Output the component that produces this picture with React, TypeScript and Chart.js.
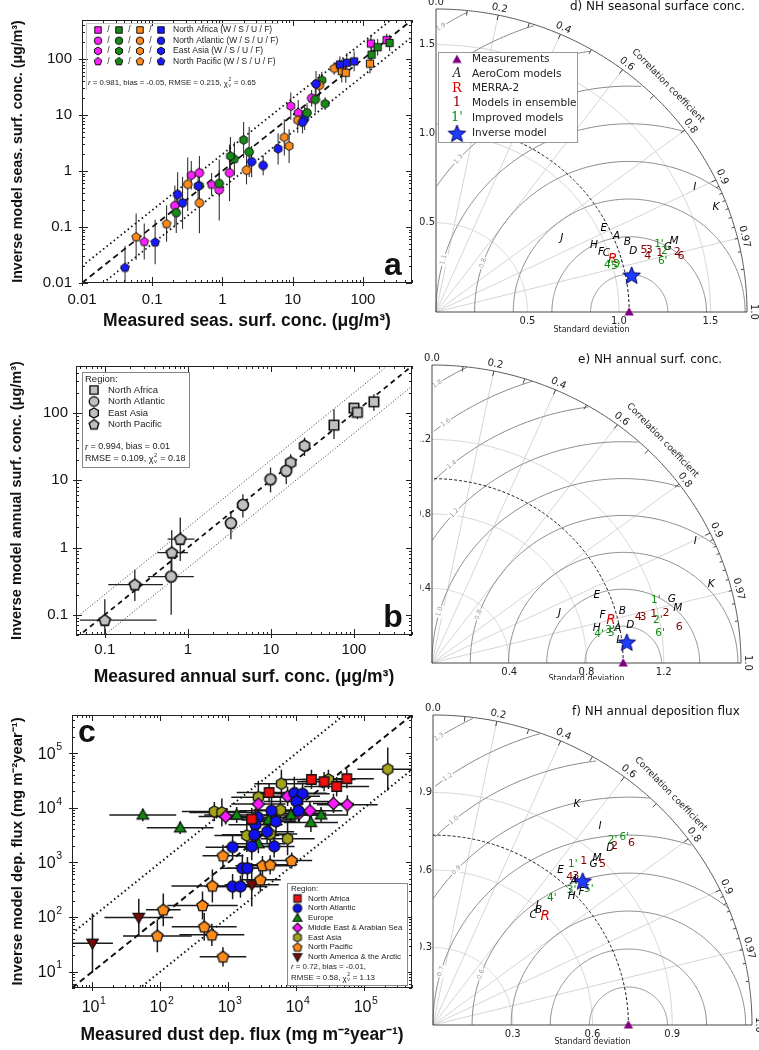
import React, { useEffect, useRef } from 'react';
import { Chart, registerables } from 'chart.js';

Chart.register(...registerables);

const SANS = '"Liberation Sans", Arial, Helvetica, sans-serif';
const DJ = '"DejaVu Sans", Verdana, sans-serif';
const SERIF = '"DejaVu Serif", "Liberation Serif", serif';

/* ================= a) seasonal surface concentration ================= */
const aSeasons = ['W', 'S', 'U', 'F'];
const aSeasonColor: Record<string, string> = { W: '#ff20ff', S: '#178a17', U: '#ff8c1a', F: '#1a1aff' };
const aRegionNames = ['North Africa', 'North Atlantic', 'East Asia', 'North Pacific'];
const aRegionShapes = ['square', 'circle', 'hexagon', 'pentagon'];

const aAfricaX = [130, 218, 133, 162, 240, 126, 50, 57, 47, 59, 75];
const aAfricaY = [190, 219, 120, 163, 195, 83, 61, 57, 80, 86, 91];
const aAfricaS = ['W', 'W', 'S', 'S', 'S', 'U', 'U', 'U', 'F', 'F', 'F'];
const aAfricaE = [1.4, 1.3, 1.5, 1.4, 1.4, 1.5, 1.6, 1.5, 1.4, 1.5, 1.5];

const aAtlX = [1.26, 0.47, 0.9, 0.21, 18.6, 21, 16, 0.9, 2.4, 0.22, 24, 2.2, 0.47, 0.32, 21.5, 13.8, 2.6, 3.8, 0.23, 0.27];
const aAtlY = [0.93, 0.93, 0.46, 0.24, 20, 19, 11, 0.6, 2.2, 0.18, 34, 1.04, 0.27, 0.58, 36, 7.5, 1.47, 1.26, 0.38, 0.27];
const aAtlS = ['W', 'W', 'W', 'W', 'W', 'S', 'S', 'S', 'S', 'S', 'U', 'U', 'U', 'U', 'F', 'F', 'F', 'F', 'F', 'F'];
const aAtlE = [3.2, 2.0, 3.5, 2.3, 1.4, 1.7, 1.5, 1.7, 2.8, 2.3, 1.6, 1.8, 3.5, 3.0, 1.7, 1.6, 1.9, 1.5, 2.5, 2.9];

const aAsiaX = [9.4, 12, 0.36, 26, 29, 2.0, 1.3, 0.47, 39, 11.8, 7.6, 8.9, 14.8, 6.2, 0.45];
const aAsiaY = [14.5, 11, 0.84, 42, 16, 3.6, 1.85, 0.55, 68, 8.1, 4.0, 2.8, 8.7, 2.5, 0.54];
const aAsiaS = ['W', 'W', 'W', 'S', 'S', 'S', 'S', 'S', 'U', 'U', 'U', 'U', 'F', 'F', 'F'];
const aAsiaE = [1.75, 1.7, 1.8, 1.4, 1.3, 2.1, 2.2, 2.2, 1.3, 1.7, 2.1, 2.0, 1.6, 1.9, 1.8];

const aPacX = [0.7, 0.077, 1.48, 0.16, 0.059, 0.11, 0.041];
const aPacY = [0.58, 0.055, 1.66, 0.115, 0.067, 0.054, 0.019];
const aPacS = ['W', 'W', 'S', 'U', 'U', 'F', 'F'];
const aPacE = [1.6, 2.1, 2.0, 2.1, 2.6, 2.5, 2.4];

/* ================= b) annual surface concentration ================= */
const bRegionNames = ['North Africa', 'North Atlantic', 'East Asia', 'North Pacific'];
const bAfricaX = [57.5, 100, 110, 174];
const bAfricaY = [66, 118, 102, 147];
const bAfricaXLo = [0, 0, 0, 0];
const bAfricaXHi = [0, 0, 0, 0];
const bAfricaYLo = [41, 95, 81, 108];
const bAfricaYHi = [114, 135, 128, 190];

const bAtlX = [0.63, 3.3, 4.6, 9.9, 15.3];
const bAtlY = [0.37, 2.3, 4.3, 10.3, 13.8];
const bAtlXLo = [0.33, 0, 0, 0, 0];
const bAtlXHi = [1.18, 0, 0, 0, 0];
const bAtlYLo = [0.1, 1.33, 2.8, 6.6, 8.8];
const bAtlYHi = [1.0, 3.5, 6.2, 15.5, 20];

const bAsiaX = [17.3, 25.4];
const bAsiaY = [18.3, 32.5];
const bAsiaXLo = [0, 0];
const bAsiaXHi = [0, 0];
const bAsiaYLo = [13, 23];
const bAsiaYHi = [24.4, 43];

const bPacX = [0.1, 0.23, 0.64, 0.81];
const bPacY = [0.083, 0.28, 0.84, 1.33];
const bPacXLo = [0.05, 0.11, 0.43, 0.57];
const bPacXHi = [0.42, 0.5, 1.0, 1.2];
const bPacYLo = [0.05, 0.16, 0.4, 0.63];
const bPacYHi = [0.17, 0.47, 1.8, 2.8];

/* ================= c) annual deposition flux ================= */
const cRegionNames = ['North Africa', 'North Atlantic', 'Europe', 'Middle East & Arabian Sea', 'East Asia', 'North Pacific', 'North America & the Arctic'];
const cRegionShapes = ['square', 'circle', 'triangle', 'diamond', 'hexagon', 'pentagon', 'triangleDown'];
const cRegionColors = ['#f01010', '#1010f0', '#118811', '#ff1aff', '#a3a31c', '#ff8c1a', '#7a0a0a'];

const cAfricaX = [3960, 16600, 25500, 39000, 55000, 2200];
const cAfricaY = [19000, 33000, 30000, 24500, 34000, 6200];
const cAfricaXF = [3, 3, 2.5, 3, 2.5, 2.5];
const cAfricaYF = [1.5, 1.5, 1.5, 1.5, 1.5, 1.6];

const cAtlX = [9300, 12300, 10000, 10700, 4300, 2700, 2500, 2400, 5000, 3700, 4700, 2200, 1150, 1600, 1900, 1150, 1500];
const cAtlY = [18500, 18000, 13000, 8800, 8800, 6700, 4900, 3200, 5600, 3650, 1960, 1960, 1900, 780, 780, 360, 360];
const cAtlXF = [3, 2.5, 3, 2.5, 3, 3, 2.5, 3, 2, 2.5, 2, 2.5, 2.5, 2, 2, 2.5, 2.5];
const cAtlYF = [2, 1.6, 1.8, 1.6, 1.8, 1.8, 2, 1.7, 1.6, 1.7, 1.6, 1.8, 1.7, 1.8, 1.6, 1.7, 1.6];

const cEurX = [55, 195, 1320, 3900, 8300, 16300, 23000, 2750];
const cEurY = [7400, 4300, 7400, 6000, 7400, 5400, 7400, 2200];
const cEurXF = [3.1, 3.1, 3, 2.5, 2.5, 2.5, 2.5, 2.5];
const cEurYF = [1.3, 1.3, 1.4, 1.5, 1.4, 1.5, 1.4, 1.5];

const cMidX = [910, 2750, 7400, 11000, 15800, 35000, 56000];
const cMidY = [6900, 11700, 16200, 7900, 8800, 12000, 11300];
const cMidXF = [2.5, 2.5, 3, 2.5, 3, 2, 2.8];
const cMidYF = [1.4, 1.5, 1.5, 1.5, 1.5, 1.5, 1.5];

const cAsiaX = [620, 800, 6000, 29500, 2750, 5800, 1860, 4100, 7400, 220000];
const cAsiaY = [8500, 8200, 27500, 33000, 15600, 9100, 3100, 3300, 2700, 51000];
const cAsiaXF = [3, 3, 2.5, 2.5, 2.5, 2.5, 3, 2.5, 2.5, 2.8];
const cAsiaYF = [1.5, 1.8, 1.8, 1.5, 2, 1.8, 2, 1.8, 2, 2.5];

const cPacX = [830, 8500, 3160, 4100, 2940, 580, 415, 110, 440, 570, 90, 830];
const cPacY = [1320, 1080, 870, 900, 480, 370, 162, 135, 66, 47, 45, 18.6];
const cPacXF = [2, 2, 2.5, 2.5, 2, 4, 3.3, 1.8, 3, 3, 3.2, 2.2];
const cPacYF = [1.6, 1.4, 1.5, 1.5, 1.7, 2, 1.8, 2, 1.8, 1.6, 2, 1.5];

const cAmX = [10, 48, 2200];
const cAmY = [33, 98, 390];
const cAmXF = [2, 3.2, 2.5];
const cAmYF = [3.5, 2.2, 2.5];

/* ================= Taylor diagrams d, e, f ================= */
const dLabels = ['I', 'K', 'E', 'A', 'J', 'B', 'H', 'D', 'F', 'C', 'M', 'G', 'R', "4'", "5'", "3'", '5', '3', '4', '1', '2', '6', "1'", "2'", "6'"];
const dStd = [1.577, 1.64, 1.031, 1.075, 0.801, 1.117, 0.941, 1.131, 0.962, 0.989, 1.359, 1.318, 1.01, 0.98, 1.016, 1.031, 1.19, 1.216, 1.199, 1.268, 1.361, 1.375, 1.276, 1.301, 1.271];
const dCorr = [0.897, 0.933, 0.89, 0.918, 0.858, 0.936, 0.917, 0.953, 0.938, 0.942, 0.957, 0.961, 0.956, 0.964, 0.968, 0.965, 0.956, 0.959, 0.965, 0.965, 0.969, 0.974, 0.955, 0.965, 0.975];
const dRefStd = 1.056;
const dInvStd = 1.089;
const dInvCorr = 0.982;
const dStdTicks = [0.5, 1.0, 1.5];

const eLabels = ['I', 'K', 'E', 'G', 'M', "1'", 'J', 'B', 'F', 'R', '4', '3', '1', '2', "2'", '6', "6'", 'D', 'H', "3'", 'A', "4'", "5'", 'L'];
const eStd = [1.511, 1.506, 0.927, 1.288, 1.307, 1.207, 0.712, 1.024, 0.919, 0.954, 1.097, 1.12, 1.177, 1.241, 1.192, 1.295, 1.192, 1.046, 0.873, 0.939, 0.978, 0.879, 0.949, 0.977];
const eCorr = [0.902, 0.96, 0.92, 0.964, 0.974, 0.96, 0.927, 0.963, 0.961, 0.971, 0.974, 0.975, 0.975, 0.976, 0.981, 0.989, 0.991, 0.981, 0.977, 0.982, 0.982, 0.984, 0.986, 0.992];
const eRefStd = 0.99;
const eInvStd = 1.015;
const eInvCorr = 0.994;
const eStdTicks = [0.4, 0.8, 1.2];

const fLabels = ['K', 'I', "2'", "6'", '6', 'D', '2', 'M', 'G', '5', '1', "1'", 'E', '4', '3', 'A', 'L', "3'", "5'", 'F', 'H', "4'", 'J', 'B', 'C', 'R'];
const fStd = [1.012, 0.995, 0.983, 1.024, 1.026, 0.955, 0.973, 0.893, 0.867, 0.891, 0.851, 0.815, 0.768, 0.77, 0.788, 0.769, 0.782, 0.738, 0.787, 0.758, 0.72, 0.663, 0.607, 0.597, 0.567, 0.595];
const fCorr = [0.535, 0.632, 0.687, 0.703, 0.728, 0.698, 0.702, 0.691, 0.697, 0.716, 0.666, 0.645, 0.625, 0.668, 0.681, 0.689, 0.691, 0.706, 0.745, 0.737, 0.724, 0.674, 0.647, 0.665, 0.665, 0.709];
const fRefStd = 0.735;
const fInvStd = 0.792;
const fInvCorr = 0.711;
const fStdTicks = [0.3, 0.6, 0.9];

const corrLines = [0.2, 0.4, 0.6, 0.8, 0.9, 0.97];
const corrLabels = [0.0, 0.2, 0.4, 0.6, 0.8, 0.9, 0.97, 1.0];
const taylorLegendLabels = ['Measurements', 'AeroCom models', 'MERRA-2', 'Models in ensemble', 'Improved models', 'Inverse model'];

/* ================= helpers ================= */
const markerCache = new Map<string, HTMLCanvasElement>();
function marker(shape: string, fill: string, size: number, lw = 1.1, stroke = '#111'): HTMLCanvasElement {
  const key = [shape, fill, size, lw, stroke].join('|');
  const hit = markerCache.get(key);
  if (hit) return hit;
  const s = Math.ceil(size * 1.3 + lw * 2 + 2);
  const c = document.createElement('canvas');
  c.width = s;
  c.height = s;
  const g = c.getContext('2d') as CanvasRenderingContext2D;
  g.translate(s / 2, s / 2);
  const r = size / 2;
  g.beginPath();
  const poly = (n: number, start: number, rr: number, dy = 0) => {
    for (let i = 0; i < n; i++) {
      const a = start + (i * 2 * Math.PI) / n;
      const px = rr * Math.cos(a);
      const py = rr * Math.sin(a) + dy;
      if (i) g.lineTo(px, py);
      else g.moveTo(px, py);
    }
    g.closePath();
  };
  if (shape === 'square') g.rect(-r * 0.86, -r * 0.86, r * 1.72, r * 1.72);
  else if (shape === 'circle') g.arc(0, 0, r, 0, Math.PI * 2);
  else if (shape === 'hexagon') poly(6, -Math.PI / 2, r * 1.05);
  else if (shape === 'pentagon') poly(5, -Math.PI / 2, r * 1.08, r * 0.06);
  else if (shape === 'diamond') poly(4, -Math.PI / 2, r * 1.12);
  else if (shape === 'triangle') poly(3, -Math.PI / 2, r * 1.2, r * 0.15);
  else if (shape === 'triangleDown') poly(3, Math.PI / 2, r * 1.2, -r * 0.15);
  else if (shape === 'star') {
    for (let i = 0; i < 10; i++) {
      const a = -Math.PI / 2 + (i * Math.PI) / 5;
      const rr = i % 2 === 0 ? r * 1.15 : r * 0.5;
      const px = rr * Math.cos(a);
      const py = rr * Math.sin(a) + r * 0.08;
      if (i) g.lineTo(px, py);
      else g.moveTo(px, py);
    }
    g.closePath();
  }
  g.fillStyle = fill;
  g.fill();
  if (lw > 0) {
    g.lineWidth = lw;
    g.strokeStyle = stroke;
    g.lineJoin = 'miter';
    g.stroke();
  }
  markerCache.set(key, c);
  return c;
}

function drawImg(ctx: CanvasRenderingContext2D, img: HTMLCanvasElement, x: number, y: number) {
  ctx.drawImage(img, x - img.width / 2, y - img.height / 2);
}

type Part = string | { italic?: string; chi?: boolean };
function richText(ctx: CanvasRenderingContext2D, x: number, y: number, size: number, parts: Part[], color = '#222') {
  let cx = x;
  ctx.fillStyle = color;
  ctx.textBaseline = 'middle';
  ctx.textAlign = 'left';
  for (const p of parts) {
    if (typeof p === 'string') {
      ctx.font = `${size}px ${SANS}`;
      ctx.fillText(p, cx, y);
      cx += ctx.measureText(p).width;
    } else if (p.italic) {
      ctx.font = `italic ${size}px ${SANS}`;
      ctx.fillText(p.italic, cx, y);
      cx += ctx.measureText(p.italic).width;
    } else if (p.chi) {
      ctx.font = `${size}px ${SANS}`;
      ctx.fillText('χ', cx, y + 1);
      cx += ctx.measureText('χ').width + 0.5;
      const s2 = size * 0.62;
      ctx.font = `${s2}px ${SANS}`;
      ctx.fillText('2', cx, y - size * 0.38);
      ctx.fillText('ν', cx, y + size * 0.32);
      cx += ctx.measureText('ν').width + 1;
    }
  }
}

const isDecade = (v: number) => {
  const l = Math.log10(v);
  return Math.abs(l - Math.round(l)) < 1e-6;
};

function drawLogFrame(chart: any) {
  const { ctx, chartArea: a } = chart;
  const xs = chart.scales.x;
  const ys = chart.scales.y;
  ctx.save();
  ctx.strokeStyle = '#222';
  ctx.lineWidth = 1;
  ctx.strokeRect(a.left + 0.5, a.top + 0.5, a.right - a.left - 1, a.bottom - a.top - 1);
  const each = (min: number, max: number, f: (v: number, major: boolean) => void) => {
    for (let e = Math.floor(Math.log10(min)) - 1; e <= Math.ceil(Math.log10(max)); e++) {
      for (let m = 1; m <= 9; m++) {
        const v = m * Math.pow(10, e);
        if (v < min * 0.9999 || v > max * 1.0001) continue;
        f(v, m === 1);
      }
    }
  };
  ctx.beginPath();
  each(xs.min, xs.max, (v, major) => {
    const px = Math.round(xs.getPixelForValue(v)) + 0.5;
    const L = major ? 6 : 3;
    ctx.moveTo(px, a.bottom + (major ? 3 : 0));
    ctx.lineTo(px, a.bottom - L);
    ctx.moveTo(px, a.top);
    ctx.lineTo(px, a.top + L);
  });
  each(ys.min, ys.max, (v, major) => {
    const py = Math.round(ys.getPixelForValue(v)) + 0.5;
    const L = major ? 6 : 3;
    ctx.moveTo(a.left - (major ? 3 : 0), py);
    ctx.lineTo(a.left + L, py);
    ctx.moveTo(a.right, py);
    ctx.lineTo(a.right - L, py);
  });
  ctx.stroke();
  ctx.restore();
}

const errPlugin = {
  id: 'errbars',
  beforeDatasetsDraw(chart: any) {
    const { ctx, chartArea: a } = chart;
    const xs = chart.scales.x;
    const ys = chart.scales.y;
    ctx.save();
    ctx.beginPath();
    ctx.rect(a.left, a.top, a.right - a.left, a.bottom - a.top);
    ctx.clip();
    chart.data.datasets.forEach((ds: any) => {
      if (!ds.errs) return;
      ctx.strokeStyle = ds.errColor || '#222';
      ctx.lineWidth = ds.errWidth || 1.2;
      ds.errs.forEach((e: number[], i: number) => {
        const p = ds.data[i];
        const px = xs.getPixelForValue(p.x);
        const py = ys.getPixelForValue(p.y);
        ctx.beginPath();
        if (e[0] && e[1]) {
          ctx.moveTo(xs.getPixelForValue(e[0]), py);
          ctx.lineTo(xs.getPixelForValue(e[1]), py);
        }
        if (e[2] && e[3]) {
          ctx.moveTo(px, ys.getPixelForValue(e[2]));
          ctx.lineTo(px, ys.getPixelForValue(e[3]));
        }
        ctx.stroke();
      });
    });
    ctx.restore();
  },
};

interface ScatterCfg {
  canvasW: number;
  canvasH: number;
  area: { left: number; right: number; top: number; bottom: number };
  xMin: number;
  xMax: number;
  yMin: number;
  yMax: number;
  xTitle: string;
  yTitle: string;
  xTitleSize: number;
  yTitleSize: number;
  xTitleY: number;
  yTitleX: number;
  tickSize: number;
  xTickPad: number;
  yTickPad: number;
  powTicks: boolean;
  datasets: any[];
  lineFactor: number;
  dotted: any;
  dashed: any;
  letter: { t: string; x: number; y: number };
  drawLegend: (ctx: CanvasRenderingContext2D) => void;
}

function buildScatter(canvas: HTMLCanvasElement, cfg: ScatterCfg) {
  const lineData = (f: number) => [
    { x: cfg.xMin, y: cfg.xMin * f },
    { x: cfg.xMax, y: cfg.xMax * f },
  ];
  const base = { type: 'line', pointRadius: 0, fill: false, order: 20, borderCapStyle: 'butt' };
  const lines = [
    { ...base, ...cfg.dashed, data: lineData(1) },
    { ...base, ...cfg.dotted, data: lineData(cfg.lineFactor) },
    { ...base, ...cfg.dotted, data: lineData(1 / cfg.lineFactor) },
  ];
  const xTitlePad = cfg.canvasH - cfg.xTitleY - cfg.xTitleSize * 0.6;
  const yTitlePad = cfg.yTitleX - cfg.yTitleSize * 0.6;
  const tickLabel = (v: any) => {
    const n = Number(v);
    if (cfg.powTicks || !isDecade(n)) return '';
    return String(Math.pow(10, Math.round(Math.log10(n))));
  };
  const config: any = {
    type: 'scatter',
    data: { datasets: [...cfg.datasets, ...lines] },
    options: {
      animation: false,
      responsive: false,
      events: [],
      layout: { padding: { left: 0, top: cfg.area.top, right: cfg.canvasW - cfg.area.right, bottom: 0 } },
      plugins: { legend: { display: false }, tooltip: { enabled: false } },
      scales: {
        x: {
          type: 'logarithmic',
          min: cfg.xMin,
          max: cfg.xMax,
          grid: { display: false, drawTicks: false },
          border: { display: false },
          ticks: { autoSkip: false, maxRotation: 0, padding: cfg.xTickPad, color: '#111', font: { size: cfg.tickSize, family: SANS }, callback: tickLabel },
          title: { display: true, text: cfg.xTitle, color: '#111', font: { size: cfg.xTitleSize, weight: 'bold', family: SANS }, padding: { top: 0, bottom: xTitlePad } },
          afterFit: (s: any) => {
            s.height = cfg.canvasH - cfg.area.bottom;
          },
        },
        y: {
          type: 'logarithmic',
          min: cfg.yMin,
          max: cfg.yMax,
          grid: { display: false, drawTicks: false },
          border: { display: false },
          ticks: { autoSkip: false, padding: cfg.yTickPad, color: '#111', font: { size: cfg.tickSize, family: SANS }, callback: tickLabel },
          title: { display: true, text: cfg.yTitle, color: '#111', font: { size: cfg.yTitleSize, weight: 'bold', family: SANS }, padding: { top: yTitlePad, bottom: 0 } },
          afterFit: (s: any) => {
            s.width = cfg.area.left;
          },
        },
      },
    },
    plugins: [
      errPlugin,
      {
        id: 'frame',
        afterDraw(chart: any) {
          drawLogFrame(chart);
          const ctx = chart.ctx as CanvasRenderingContext2D;
          ctx.save();
          if (cfg.powTicks) {
            const xs = chart.scales.x;
            const ys = chart.scales.y;
            const a = chart.chartArea;
            ctx.fillStyle = '#111';
            ctx.textBaseline = 'middle';
            for (let e = Math.ceil(Math.log10(cfg.xMin)); e <= Math.floor(Math.log10(cfg.xMax)); e++) {
              const px = xs.getPixelForValue(Math.pow(10, e));
              ctx.font = `16px ${SANS}`;
              const w1 = ctx.measureText('10').width;
              ctx.font = `10.5px ${SANS}`;
              const w2 = ctx.measureText(String(e)).width;
              const x0 = px - (w1 + w2) / 2 + 1;
              ctx.textAlign = 'left';
              ctx.font = `16px ${SANS}`;
              ctx.fillText('10', x0, a.bottom + 20);
              ctx.font = `10.5px ${SANS}`;
              ctx.fillText(String(e), x0 + w1 + 0.5, a.bottom + 13);
            }
            for (let e = Math.ceil(Math.log10(cfg.yMin)); e <= Math.floor(Math.log10(cfg.yMax)); e++) {
              const py = ys.getPixelForValue(Math.pow(10, e));
              ctx.font = `10.5px ${SANS}`;
              const w2 = ctx.measureText(String(e)).width;
              ctx.font = `16px ${SANS}`;
              const w1 = ctx.measureText('10').width;
              const xr = a.left - 10;
              ctx.textAlign = 'left';
              ctx.fillText('10', xr - w2 - w1 - 0.5, py + 1);
              ctx.font = `10.5px ${SANS}`;
              ctx.fillText(String(e), xr - w2, py - 6);
            }
          }
          ctx.font = `bold 32px ${SANS}`;
          ctx.fillStyle = '#111';
          ctx.textAlign = 'center';
          ctx.textBaseline = 'middle';
          ctx.fillText(cfg.letter.t, cfg.letter.x, cfg.letter.y);
          cfg.drawLegend(ctx);
          ctx.restore();
        },
      },
    ],
  };
  return new Chart(canvas, config);
}

/* ---------- panel a ---------- */
function buildA(canvas: HTMLCanvasElement) {
  const regions = [
    { x: aAfricaX, y: aAfricaY, s: aAfricaS, e: aAfricaE },
    { x: aAtlX, y: aAtlY, s: aAtlS, e: aAtlE },
    { x: aAsiaX, y: aAsiaY, s: aAsiaS, e: aAsiaE },
    { x: aPacX, y: aPacY, s: aPacS, e: aPacE },
  ];
  const datasets = regions.map((r, k) => ({
    data: r.x.map((x, i) => ({ x, y: r.y[i] })),
    pointStyle: r.s.map((s) => marker(aRegionShapes[k], aSeasonColor[s], 8.5, 1)),
    pointRadius: 4,
    errs: r.x.map((x, i) => [0, 0, r.y[i] / r.e[i], r.y[i] * r.e[i]]),
    errColor: '#333',
    errWidth: 1.1,
  }));
  return buildScatter(canvas, {
    canvasW: 420,
    canvasH: 336,
    area: { left: 82, right: 412, top: 20, bottom: 283 },
    xMin: 0.01,
    xMax: 500,
    yMin: 0.01,
    yMax: 500,
    xTitle: 'Measured seas. surf. conc. (μg/m³)',
    yTitle: 'Inverse model seas. surf. conc. (μg/m³)',
    xTitleSize: 17.5,
    yTitleSize: 14.2,
    xTitleY: 321,
    yTitleX: 18,
    tickSize: 15,
    xTickPad: 8,
    yTickPad: 10,
    powTicks: false,
    datasets,
    lineFactor: 2,
    dashed: { borderColor: '#111', borderWidth: 1.8, borderDash: [6, 4] },
    dotted: { borderColor: '#111', borderWidth: 1.8, borderDash: [1.5, 3] },
    letter: { t: 'a', x: 393, y: 266 },
    drawLegend: (ctx) => {
      ctx.strokeStyle = '#c4c4c4';
      ctx.lineWidth = 1;
      ctx.beginPath();
      ctx.moveTo(86.5, 90);
      ctx.lineTo(86.5, 23.5);
      ctx.lineTo(279, 23.5);
      ctx.stroke();
      const rowsY = [30, 40.7, 51, 61.3];
      const mx = [98, 119, 140, 161];
      rowsY.forEach((y, r) => {
        aSeasons.forEach((s, k) => {
          drawImg(ctx, marker(aRegionShapes[r], aSeasonColor[s], 7.5, 1), mx[k], y);
          if (k < 3) {
            ctx.font = `8.5px ${SANS}`;
            ctx.fillStyle = '#222';
            ctx.textAlign = 'center';
            ctx.textBaseline = 'middle';
            ctx.fillText('/', (mx[k] + mx[k + 1]) / 2, y);
          }
        });
        ctx.font = `8.5px ${SANS}`;
        ctx.fillStyle = '#222';
        ctx.textAlign = 'left';
        ctx.fillText(`${aRegionNames[r]} (W / S / U / F)`, 173, y);
      });
      richText(ctx, 88, 83, 7.8, [{ italic: 'r' }, ' = 0.981, bias = -0.05, RMSE = 0.215, ', { chi: true }, ' = 0.65']);
    },
  });
}

/* ---------- panel b ---------- */
function buildB(canvas: HTMLCanvasElement) {
  const regions = [
    { x: bAfricaX, y: bAfricaY, xl: bAfricaXLo, xh: bAfricaXHi, yl: bAfricaYLo, yh: bAfricaYHi },
    { x: bAtlX, y: bAtlY, xl: bAtlXLo, xh: bAtlXHi, yl: bAtlYLo, yh: bAtlYHi },
    { x: bAsiaX, y: bAsiaY, xl: bAsiaXLo, xh: bAsiaXHi, yl: bAsiaYLo, yh: bAsiaYHi },
    { x: bPacX, y: bPacY, xl: bPacXLo, xh: bPacXHi, yl: bPacYLo, yh: bPacYHi },
  ];
  const datasets = regions.map((r, k) => ({
    data: r.x.map((x, i) => ({ x, y: r.y[i] })),
    pointStyle: marker(aRegionShapes[k], '#c0c0c0', 11, 1.6, '#111'),
    pointRadius: 5,
    errs: r.x.map((x, i) => [r.xl[i], r.xh[i], r.yl[i], r.yh[i]]),
    errColor: '#222',
    errWidth: 1.3,
  }));
  return buildScatter(canvas, {
    canvasW: 420,
    canvasH: 352,
    area: { left: 76, right: 412, top: 30, bottom: 299 },
    xMin: 0.045,
    xMax: 500,
    yMin: 0.05,
    yMax: 500,
    xTitle: 'Measured annual surf. conc. (μg/m³)',
    yTitle: 'Inverse model annual surf. conc. (μg/m³)',
    xTitleSize: 17.5,
    yTitleSize: 14.5,
    xTitleY: 341,
    yTitleX: 17,
    tickSize: 15,
    xTickPad: 6,
    yTickPad: 8,
    powTicks: false,
    datasets,
    lineFactor: 2,
    dashed: { borderColor: '#111', borderWidth: 1.8, borderDash: [5, 4] },
    dotted: { borderColor: '#333', borderWidth: 1, borderDash: [1, 2] },
    letter: { t: 'b', x: 393, y: 282 },
    drawLegend: (ctx) => {
      ctx.fillStyle = '#fff';
      ctx.fillRect(82, 36, 107, 95);
      ctx.strokeStyle = '#888';
      ctx.lineWidth = 1;
      ctx.strokeRect(82.5, 36.5, 107, 95);
      ctx.fillStyle = '#222';
      ctx.font = `9.5px ${SANS}`;
      ctx.textAlign = 'left';
      ctx.textBaseline = 'middle';
      ctx.fillText('Region:', 85, 43);
      const rows = [54, 65.5, 77, 88.5];
      rows.forEach((y, k) => {
        drawImg(ctx, marker(aRegionShapes[k], '#c0c0c0', 9.5, 1.4, '#111'), 94, y);
        ctx.font = `9.5px ${SANS}`;
        ctx.fillStyle = '#222';
        ctx.textAlign = 'left';
        ctx.fillText(bRegionNames[k], 108, y);
      });
      richText(ctx, 85, 111, 9, [{ italic: 'r' }, ' = 0.994, bias = 0.01']);
      richText(ctx, 85, 123, 9, ['RMSE = 0.109, ', { chi: true }, ' = 0.18']);
    },
  });
}

/* ---------- panel c ---------- */
function buildC(canvas: HTMLCanvasElement) {
  const regions = [
    { x: cAfricaX, y: cAfricaY, xf: cAfricaXF, yf: cAfricaYF },
    { x: cAtlX, y: cAtlY, xf: cAtlXF, yf: cAtlYF },
    { x: cEurX, y: cEurY, xf: cEurXF, yf: cEurYF },
    { x: cMidX, y: cMidY, xf: cMidXF, yf: cMidYF },
    { x: cAsiaX, y: cAsiaY, xf: cAsiaXF, yf: cAsiaYF },
    { x: cPacX, y: cPacY, xf: cPacXF, yf: cPacYF },
    { x: cAmX, y: cAmY, xf: cAmXF, yf: cAmYF },
  ];
  const datasets = regions.map((r, k) => ({
    data: r.x.map((x, i) => ({ x, y: r.y[i] })),
    pointStyle: marker(cRegionShapes[k], cRegionColors[k], 11, 1.3, '#111'),
    pointRadius: 5,
    errs: r.x.map((x, i) => [x / r.xf[i], x * r.xf[i], r.y[i] / r.yf[i], r.y[i] * r.yf[i]]),
    errColor: '#1a1a1a',
    errWidth: 1.5,
  }));
  return buildScatter(canvas, {
    canvasW: 420,
    canvasH: 362,
    area: { left: 72, right: 413, top: 27, bottom: 300 },
    xMin: 5,
    xMax: 5e5,
    yMin: 5,
    yMax: 5e5,
    xTitle: 'Measured dust dep. flux (mg m⁻²year⁻¹)',
    yTitle: 'Inverse model dep. flux (mg m⁻²year⁻¹)',
    xTitleSize: 17.5,
    yTitleSize: 14.8,
    xTitleY: 347,
    yTitleX: 18,
    tickSize: 15,
    xTickPad: 8,
    yTickPad: 10,
    powTicks: true,
    datasets,
    lineFactor: 10,
    dashed: { borderColor: '#111', borderWidth: 2, borderDash: [6, 4] },
    dotted: { borderColor: '#111', borderWidth: 2, borderDash: [1.5, 3] },
    letter: { t: 'c', x: 87, y: 45 },
    drawLegend: (ctx) => {
      ctx.fillStyle = '#fff';
      ctx.fillRect(287, 195, 120, 102);
      ctx.strokeStyle = '#888';
      ctx.lineWidth = 1;
      ctx.strokeRect(287.5, 195.5, 120, 102);
      ctx.fillStyle = '#222';
      ctx.font = `7.9px ${SANS}`;
      ctx.textAlign = 'left';
      ctx.textBaseline = 'middle';
      ctx.fillText('Region:', 291, 201);
      const rows = [210.5, 220.3, 230, 239.8, 249.5, 259.3, 269];
      rows.forEach((y, k) => {
        drawImg(ctx, marker(cRegionShapes[k], cRegionColors[k], 8.5, 1.1, '#111'), 297.5, y);
        ctx.font = `7.9px ${SANS}`;
        ctx.fillStyle = '#222';
        ctx.textAlign = 'left';
        ctx.fillText(cRegionNames[k], 308, y);
      });
      richText(ctx, 291, 279, 7.9, [{ italic: 'r' }, ' = 0.72, bias = -0.01,']);
      richText(ctx, 291, 289.5, 7.9, ['RMSE = 0.58, ', { chi: true }, ' = 1.13']);
    },
  });
}

/* ---------- Taylor diagrams ---------- */
interface TaylorCfg {
  labels: string[];
  std: number[];
  corr: number[];
  ref: number;
  invStd: number;
  invCorr: number;
  max: number;
  stdTicks: number[];
  title: string;
  titleX: number;
  titleY: number;
  legend: boolean;
  canvas: { left: number; top: number; w: number; h: number };
  area: { left: number; right: number; top: number; bottom: number };
  sdTitleDy: number;
}

function labelStyle(l: string) {
  if (l === 'R') return { font: `italic 13.5px ${DJ}`, color: '#e00000' };
  if (/^\d'$/.test(l)) return { font: `10.5px ${DJ}`, color: '#108a10' };
  if (/^\d$/.test(l)) return { font: `11px ${DJ}`, color: '#850000' };
  return { font: `italic 10.5px ${DJ}`, color: '#000' };
}

function drawTaylorBg(chart: any, t: TaylorCfg) {
  const ctx = chart.ctx as CanvasRenderingContext2D;
  const xs = chart.scales.x;
  const ys = chart.scales.y;
  const X = (v: number) => xs.getPixelForValue(v);
  const Y = (v: number) => ys.getPixelForValue(v);
  const M = t.max;
  const ox = X(0);
  const oy = Y(0);
  ctx.save();
  const strokeCircle = (cx: number, r: number, a0: number, a1: number, clip: boolean) => {
    const N = 240;
    ctx.beginPath();
    let pen = false;
    for (let i = 0; i <= N; i++) {
      const th = a0 + ((a1 - a0) * i) / N;
      const x = cx + r * Math.cos(th);
      const y = r * Math.sin(th);
      const ok = !clip || (x >= -1e-9 && x * x + y * y <= M * M + 1e-9);
      if (ok) {
        if (pen) ctx.lineTo(X(x), Y(y));
        else ctx.moveTo(X(x), Y(y));
        pen = true;
      } else pen = false;
    }
    ctx.stroke();
  };
  ctx.strokeStyle = '#d0d0d0';
  ctx.lineWidth = 0.9;
  t.stdTicks.forEach((s) => strokeCircle(0, s, 0, Math.PI / 2, false));
  ctx.beginPath();
  corrLines.forEach((r) => {
    ctx.moveTo(ox, oy);
    ctx.lineTo(X(M * r), Y(M * Math.sqrt(1 - r * r)));
  });
  ctx.stroke();
  const step = 0.2 * t.ref;
  for (let k = 1; k < 20; k++) {
    const rr = k * step;
    if (rr > M + t.ref) break;
    ctx.strokeStyle = '#8a8a8a';
    ctx.lineWidth = 1;
    strokeCircle(t.ref, rr, 0, Math.PI, true);
    const c0 = (M * M - t.ref * t.ref - rr * rr) / (2 * t.ref * rr);
    const th0 = c0 >= 1 ? Math.PI : c0 <= -1 ? 0 : Math.acos(c0);
    const c1 = -t.ref / rr;
    const th1 = c1 <= -1 ? Math.PI : Math.acos(c1);
    if (th1 <= th0) continue;
    const th = th0 + 0.85 * (th1 - th0);
    const lx = X(t.ref + rr * Math.cos(th));
    const ly = Y(rr * Math.sin(th));
    const tx = -(X(1) - X(0)) * Math.sin(th);
    const ty = (Y(1) - Y(0)) * Math.cos(th);
    let ang = Math.atan2(ty, tx);
    if (ang > Math.PI / 2) ang -= Math.PI;
    if (ang < -Math.PI / 2) ang += Math.PI;
    ctx.save();
    ctx.translate(lx, ly);
    ctx.rotate(ang);
    ctx.font = `6.5px ${DJ}`;
    const txt = rr.toFixed(1);
    const w = ctx.measureText(txt).width;
    ctx.fillStyle = '#fff';
    ctx.fillRect(-w / 2 - 1, -4, w + 2, 8);
    ctx.fillStyle = '#999';
    ctx.textAlign = 'center';
    ctx.textBaseline = 'middle';
    ctx.fillText(txt, 0, 0);
    ctx.restore();
  }
  ctx.strokeStyle = '#555';
  ctx.lineWidth = 1;
  strokeCircle(0, M, 0, Math.PI / 2, false);
  ctx.strokeStyle = '#444';
  ctx.beginPath();
  ctx.moveTo(ox, Y(M));
  ctx.lineTo(ox, oy);
  ctx.lineTo(X(M), oy);
  ctx.stroke();
  ctx.strokeStyle = '#111';
  ctx.setLineDash([3, 2]);
  strokeCircle(0, t.ref, 0, Math.PI / 2, false);
  ctx.setLineDash([]);
  const pOn = (r: number, rad: number) => {
    const s = Math.sqrt(Math.max(0, 1 - r * r));
    return [X(rad * r), Y(rad * s)];
  };
  const norm = (px: number, py: number) => {
    const dx = px - ox;
    const dy = py - oy;
    const l = Math.hypot(dx, dy);
    return [dx / l, dy / l];
  };
  ctx.strokeStyle = '#444';
  ctx.beginPath();
  const tickVals: number[] = [];
  for (let i = 1; i <= 9; i++) tickVals.push(i / 10);
  for (let i = 91; i <= 99; i++) tickVals.push(i / 100);
  tickVals.forEach((r) => {
    const [px, py] = pOn(r, M);
    const [nx, ny] = norm(px, py);
    const L = Math.abs(r * 10 - Math.round(r * 10)) < 1e-6 ? 5 : 3;
    ctx.moveTo(px, py);
    ctx.lineTo(px - nx * L, py - ny * L);
  });
  ctx.stroke();
  ctx.fillStyle = '#222';
  ctx.font = `10px ${DJ}`;
  ctx.textAlign = 'center';
  ctx.textBaseline = 'middle';
  corrLabels.forEach((r) => {
    const [px, py] = pOn(r, M);
    const [nx, ny] = norm(px, py);
    const th = Math.atan2(-ny, nx);
    ctx.save();
    ctx.translate(px + nx * 7, py + ny * 7);
    ctx.rotate(Math.PI / 2 - th);
    const txt = r === 0 ? '0.0' : r === 1 ? '1.0' : String(r);
    ctx.fillText(txt, 0, 0);
    ctx.restore();
  });
  {
    const r = Math.SQRT1_2;
    const [px, py] = pOn(r, M);
    const [nx, ny] = norm(px, py);
    const th = Math.atan2(-ny, nx);
    ctx.save();
    ctx.translate(px + nx * 17, py + ny * 17);
    ctx.rotate(Math.PI / 2 - th);
    ctx.font = `9px ${DJ}`;
    ctx.fillText('Correlation coefficient', 0, 0);
    ctx.restore();
  }
  ctx.font = `10px ${DJ}`;
  t.stdTicks.forEach((s) => {
    ctx.textAlign = 'right';
    ctx.fillText(s.toFixed(1), ox - 1, Y(s));
    ctx.textAlign = 'center';
    ctx.fillText(s.toFixed(1), X(s), oy + 9);
  });
  ctx.font = `8px ${DJ}`;
  ctx.textAlign = 'center';
  ctx.fillText('Standard deviation', X(M / 2), oy + t.sdTitleDy);
  ctx.restore();
}

function drawTaylorLabels(chart: any, t: TaylorCfg) {
  const ctx = chart.ctx as CanvasRenderingContext2D;
  const meta = chart.getDatasetMeta(2);
  ctx.save();
  ctx.textAlign = 'center';
  ctx.textBaseline = 'middle';
  meta.data.forEach((el: any, i: number) => {
    const st = labelStyle(t.labels[i]);
    ctx.font = st.font;
    ctx.fillStyle = st.color;
    ctx.fillText(t.labels[i], el.x, el.y);
  });
  ctx.restore();
}

function drawTaylorLegend(ctx: CanvasRenderingContext2D) {
  const L = 18;
  const T = 52;
  const W = 139;
  const H = 90;
  ctx.save();
  ctx.fillStyle = '#fff';
  ctx.fillRect(L, T, W, H);
  ctx.strokeStyle = '#999';
  ctx.lineWidth = 1;
  ctx.strokeRect(L + 0.5, T + 0.5, W, H);
  const rows = [59.5, 74, 88.5, 103, 118, 133.5];
  const sx = 37;
  ctx.textBaseline = 'middle';
  rows.forEach((y, k) => {
    ctx.textAlign = 'center';
    if (k === 0) drawImg(ctx, marker('triangle', '#800080', 9, 0), sx, y);
    else if (k === 5) drawImg(ctx, marker('star', '#1f3dff', 16, 1, '#000060'), sx, y);
    else {
      const sym = ['', 'A', 'R', '1', "1'"][k];
      const col = ['', '#222', '#e00000', '#850000', '#108a10'][k];
      ctx.font = k === 1 ? `italic 12px ${SERIF}` : `13px ${SERIF}`;
      ctx.fillStyle = col;
      ctx.fillText(sym, sx, y);
    }
    ctx.font = `10.5px ${DJ}`;
    ctx.fillStyle = '#222';
    ctx.textAlign = 'left';
    ctx.fillText(taylorLegendLabels[k], 52, y);
  });
  ctx.restore();
}

function buildTaylor(canvas: HTMLCanvasElement, t: TaylorCfg) {
  const pts = t.std.map((s, i) => ({ x: s * t.corr[i], y: s * Math.sqrt(Math.max(0, 1 - t.corr[i] * t.corr[i])) }));
  const star = marker('star', '#1f3dff', 16, 1, '#000060');
  const tri = marker('triangle', '#800080', 9, 0);
  const config: any = {
    type: 'scatter',
    data: {
      datasets: [
        { data: [{ x: t.ref, y: 0 }], pointStyle: tri, pointRadius: 4, clip: false },
        { data: [{ x: t.invStd * t.invCorr, y: t.invStd * Math.sqrt(1 - t.invCorr * t.invCorr) }], pointStyle: star, pointRadius: 6, clip: false },
        { data: pts, pointRadius: 0, clip: false },
      ],
    },
    options: {
      animation: false,
      responsive: false,
      events: [],
      layout: {
        padding: {
          left: t.area.left - t.canvas.left,
          right: t.canvas.left + t.canvas.w - t.area.right,
          top: t.area.top - t.canvas.top,
          bottom: t.canvas.top + t.canvas.h - t.area.bottom,
        },
      },
      plugins: { legend: { display: false }, tooltip: { enabled: false } },
      scales: {
        x: { type: 'linear', display: false, min: 0, max: t.max },
        y: { type: 'linear', display: false, min: 0, max: t.max },
      },
    },
    plugins: [
      {
        id: 'taylor',
        beforeDatasetsDraw(chart: any) {
          drawTaylorBg(chart, t);
        },
        afterDatasetDraw(chart: any, args: any) {
          if (args.index === 2) drawTaylorLabels(chart, t);
        },
        afterDraw(chart: any) {
          const ctx = chart.ctx as CanvasRenderingContext2D;
          if (t.legend) drawTaylorLegend(ctx);
          ctx.save();
          ctx.font = `12px ${DJ}`;
          ctx.fillStyle = '#111';
          ctx.textAlign = 'left';
          ctx.textBaseline = 'middle';
          ctx.fillText(t.title, t.titleX - t.canvas.left, t.titleY - t.canvas.top);
          ctx.restore();
        },
      },
    ],
  };
  return new Chart(canvas, config);
}

const taylorD: TaylorCfg = {
  labels: dLabels, std: dStd, corr: dCorr, ref: dRefStd, invStd: dInvStd, invCorr: dInvCorr,
  max: 1.7, stdTicks: dStdTicks, title: 'd) NH seasonal surface conc.', titleX: 570, titleY: 7, legend: true,
  canvas: { left: 420, top: 0, w: 339, h: 340 },
  area: { left: 436, right: 747, top: 9, bottom: 312 }, sdTitleDy: 18,
};
const taylorE: TaylorCfg = {
  labels: eLabels, std: eStd, corr: eCorr, ref: eRefStd, invStd: eInvStd, invCorr: eInvCorr,
  max: 1.6, stdTicks: eStdTicks, title: 'e) NH annual surf. conc.', titleX: 578, titleY: 360, legend: false,
  canvas: { left: 420, top: 340, w: 339, h: 340 },
  area: { left: 432, right: 741, top: 365, bottom: 663 }, sdTitleDy: 16,
};
const taylorF: TaylorCfg = {
  labels: fLabels, std: fStd, corr: fCorr, ref: fRefStd, invStd: fInvStd, invCorr: fInvCorr,
  max: 1.2, stdTicks: fStdTicks, title: 'f) NH annual deposition flux', titleX: 572, titleY: 712, legend: false,
  canvas: { left: 420, top: 685, w: 339, h: 365 },
  area: { left: 433, right: 755, top: 715, bottom: 1025 }, sdTitleDy: 17,
};

function ChartCanvas(props: { left: number; top: number; width: number; height: number; build: (c: HTMLCanvasElement) => Chart }) {
  const ref = useRef<HTMLCanvasElement | null>(null);
  useEffect(() => {
    const chart = props.build(ref.current as HTMLCanvasElement);
    return () => chart.destroy();
  }, []);
  return (
    <canvas
      ref={ref}
      width={props.width}
      height={props.height}
      style={{ position: 'absolute', left: props.left, top: props.top, width: props.width, height: props.height }}
    />
  );
}

export default function App() {
  return (
    <div style={{ position: 'absolute', left: 0, top: 0, width: 759, height: 1050, background: '#fff', overflow: 'hidden' }}>
      <ChartCanvas left={0} top={0} width={420} height={336} build={buildA} />
      <ChartCanvas left={0} top={336} width={420} height={352} build={buildB} />
      <ChartCanvas left={0} top={688} width={420} height={362} build={buildC} />
      <ChartCanvas left={420} top={0} width={339} height={340} build={(c) => buildTaylor(c, taylorD)} />
      <ChartCanvas left={420} top={340} width={339} height={340} build={(c) => buildTaylor(c, taylorE)} />
      <ChartCanvas left={420} top={685} width={339} height={365} build={(c) => buildTaylor(c, taylorF)} />
    </div>
  );
}
